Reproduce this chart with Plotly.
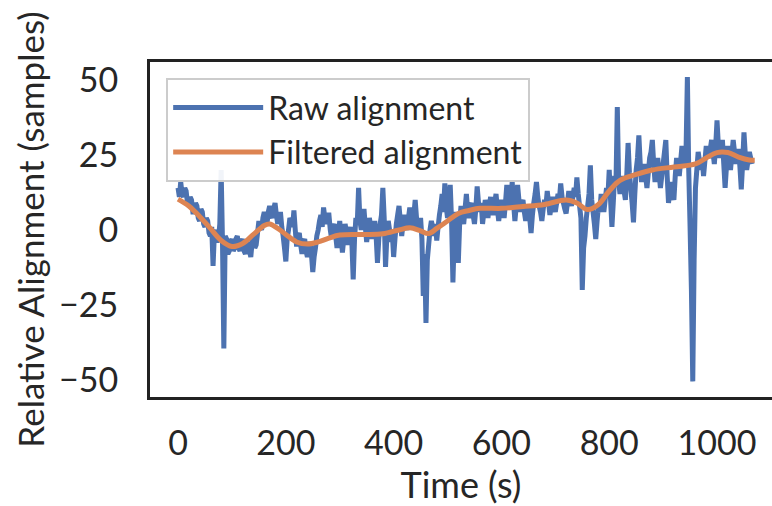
import plotly.graph_objects as go

# ---- data ----
sample_step_s = 2.5
raw_alignment = [
    # 0-47.5 s
    14, 11, 16, 12, 11, 14, 13, 9, 8, 11, 10, 6, 6, 9, 8, 4, 3, 7, 6, 2,
    # 50-97.5 s
    1, 4, 3, -1, -2, 1, -12, -1, 0, -4, -3, 2, 20, -4, -39.5, -2, -3, -8, -7, -4,
    # 100-147.5 s
    -3, -7, -6, -3, -2, -6, -7, -4, -3, -7, -8, -5, -4, -7, -9, -4, -2, -6, -5, -1,
    # 150-197.5 s
    3, 1, 0, 4, 6, 3, 2, 6, 8, 5, 4, 7, 9, 5, 2, 4, 6, 1, -2, -6,
    # 200-247.5 s
    -10.5, -3, 0, 4, 3, 1, 6.5, 0, -5.5, -2, -1, -5, -8, -4, -3, -7, -9, -6, -4, -8,
    # 250-297.5 s
    -14, -9, -6, -2, 0, 3, 5, 1, 7.5, 4, 2, 5, 5, 0, -3, 1, 2, -2, -6, -2,
    # 300-347.5 s
    3, -2, -7.5, -3, 2, -1, -5, -2, 1, -4, -16.5, -3, 4, 2, 14, 3, 0, 3, 7, 1,
    # 350-397.5 s
    -4, 0, 4, 1, -3, 0, 3, -2, -11, -3, 2, 5, 14, 4, -12.3, -2, 3, 0, -4, -1,
    # 400-447.5 s
    -9, -3, 2, 5, 8, 3, -2, 2, 5, 2, 0, 4, 7.5, 3, 1, 5, 10, 4, 0, 2,
    # 450-497.5 s
    4, -3, -22, -8, -31, -10, -5, 0, 3, 1, -2, 2, -3.5, 1, 5, 8, 12, 6, 15.5, 8,
    # 500-547.5 s
    4, 9, 15, 3, -17.5, -2, 6, 0, -11, 2, 8, 4, 2, 7, 12, 6, 4, 8, 9, 5,
    # 550-597.5 s
    2, 7, 14.5, 9, 6, 9, 2, 6, 10, 7, 4, 8, 11, 7, 5, 9, 12, 7, 3, 7,
    # 600-647.5 s
    10, 7, 4, 9, 15, 10, 7, 11, 16, 9, 3, 8, 15, 10, 6, 9, 10, 6, 3, 7,
    # 650-697.5 s
    8, 4, -1, 5, 9, 12, 16, 11, 8, 6, 3, 7, 10, 8, 13, 9, 5, 8, 11, 8,
    # 700-747.5 s
    6, 9, 12, 10, 15.5, 11, 9, 7, 5.5, 9, 13, 10, 8, 11, 14, 11, 17.5, 12, 8, 4,
    # 750-797.5 s
    -20, -6, -2, 4, 8, 12, 21.5, 10, 6, 2, -3, 3, 8, 6, 12, 9, 6, 10, 14, 11,
    # 800-847.5 s
    20, 10, 1, 9, 18, 15, 41, 16, 12, 16, 18, 13, 10, 18, 29, 19, 14, 9, 2.5, 12,
    # 850-897.5 s
    20, 24, 31.5, 22, 16, 20, 22, 18, 14, 19, 24, 26, 30, 22, 16, 20, 24, 19, 14, 18,
    # 900-947.5 s
    22, 26, 30, 18, 9, 13, 16, 12, 10, 18, 24, 21, 18, 23, 28, 25, 22, 26, 51, 20,
    # 950-997.5 s
    1, -20, -50.5, -10, 14, 20, 26, 23, 20, 24, 18, 23, 28, 26, 24, 27, 30, 26, 22, 28,
    # 1000-1065 s
    36.5, 28, 24, 27, 30, 22, 14, 21, 28, 24, 20, 25, 30, 26, 22, 25, 27, 21, 13.5,
    22, 32.5, 25, 20, 23, 26, 24, 22,
]
raw_time = [i * sample_step_s for i in range(len(raw_alignment))]

filtered_time = [0, 20, 40, 60, 80, 100, 120, 140, 160, 170, 185, 200, 220, 240,
                 260, 280, 300, 340, 380, 410, 430, 450, 465, 480, 500, 520, 540,
                 560, 600, 640, 680, 720, 740, 760, 780, 800, 820, 850, 880, 920,
                 960, 980, 1000, 1020, 1040, 1060, 1070]
filtered_alignment = [10.3, 8, 4.5, 0.5, -3.5, -5.5, -4.5, -1.5, 1.5, 2, 0.5, -1.5,
                      -4, -4.7, -4, -2.7, -1.7, -1.5, -1.3, 0, 0.7, -0.3, -1.2, 0.5,
                      3, 5.5, 6.5, 7.2, 7.2, 7.8, 8.5, 10, 9, 6.8, 8.5, 13, 16.5,
                      18.5, 20, 21, 22, 24, 25.8, 25.8, 24.3, 23.3, 23.2]

x_ticks = [0, 200, 400, 600, 800, 1000]
y_ticks = [-50, -25, 0, 25, 50]
x_range = [-52, 1102]
y_range = [-55.7, 56]

BLUE = "#4C72B0"
ORANGE = "#DD8452"
TEXT = "#262626"
FONT = "Lato"

fig = go.Figure()
fig.add_trace(go.Scatter(x=raw_time, y=raw_alignment, mode="lines",
                         name="Raw alignment", legendgroup="a",
                         line=dict(color=BLUE, width=5, shape="linear",
                                   simplify=False)))
fig.add_trace(go.Scatter(x=filtered_time, y=filtered_alignment, mode="lines",
                         name="Filtered alignment", legendgroup="b",
                         line=dict(color=ORANGE, width=5, shape="spline", smoothing=1.0)))

fig.update_layout(
    width=772, height=506,
    margin=dict(l=150, r=0, t=62, b=109),
    paper_bgcolor="white", plot_bgcolor="white",
    font=dict(family=FONT, size=34, color=TEXT),
    showlegend=True,
    legend=dict(x=0.026, y=0.952, xanchor="left", yanchor="top",
                bgcolor="rgba(255,255,255,0.92)", bordercolor="#cccccc",
                borderwidth=2, font=dict(family=FONT, size=32, color=TEXT),
                itemwidth=90, traceorder="grouped", tracegroupgap=0),
    xaxis=dict(range=x_range, tickmode="array", tickvals=x_ticks,
               ticktext=[str(v) for v in x_ticks],
               showgrid=False, zeroline=False, showline=True, mirror=True,
               linecolor="#222222", linewidth=3, ticks="",
               ticklabelstandoff=14, tickfont=dict(size=34),
               title=dict(text="Time (s)", standoff=8,
                          font=dict(family=FONT, size=36, color=TEXT))),
    yaxis=dict(range=y_range, tickmode="array", tickvals=y_ticks,
               ticktext=[str(v).replace("-", "\u2212") for v in y_ticks],
               showgrid=False, zeroline=False, showline=True, mirror=False,
               linecolor="#222222", linewidth=3, ticks="",
               ticklabelstandoff=22, tickfont=dict(size=34),
               title=dict(text="Relative Alignment (samples)", standoff=4,
                          font=dict(family=FONT, size=35, color=TEXT))),
)

fig.write_html("out.html")
